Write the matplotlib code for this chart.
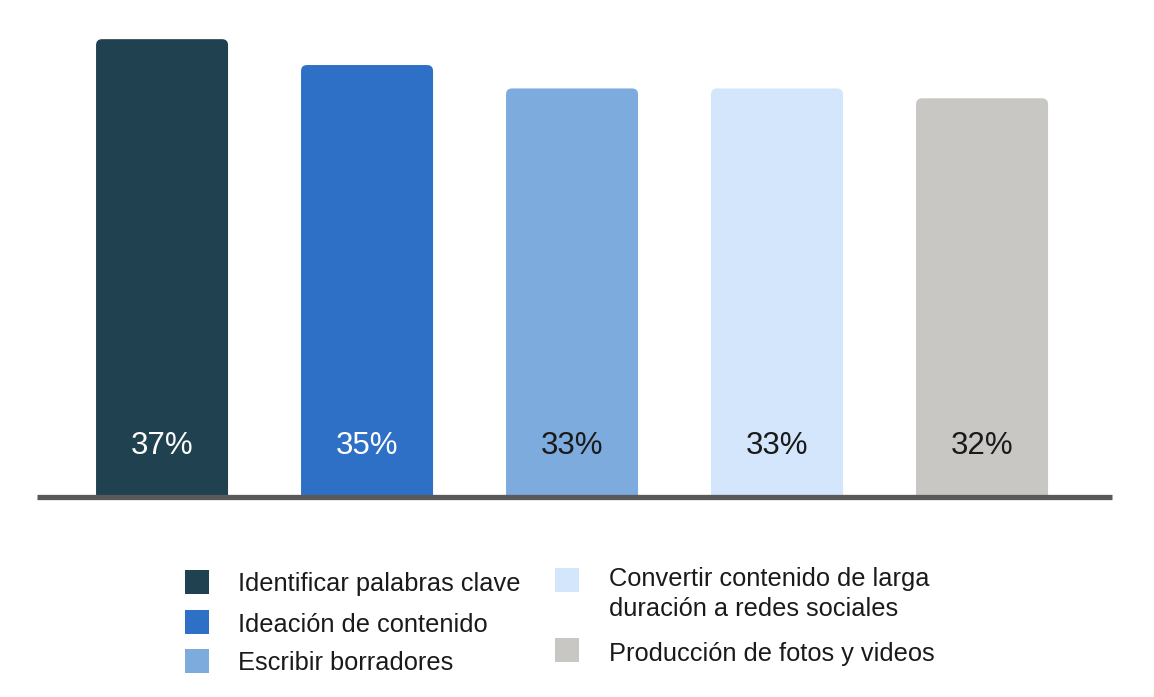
import matplotlib.pyplot as plt
from matplotlib.patches import FancyBboxPatch, Rectangle

plt.rcParams['font.family'] = ['Liberation Sans', 'DejaVu Sans']

categories = ["Identificar palabras clave", "Ideación de contenido", "Escribir borradores",
              "Convertir contenido de larga\nduración a redes sociales", "Producción de fotos y videos"]
values = [37.0, 34.9, 33.0, 33.0, 32.2]
colors = ["#1f4150", "#2e70c6", "#7eabdd", "#d4e6fb", "#c8c7c3"]
label_colors = ["white", "white", "#1a1a1a", "#1a1a1a", "#1a1a1a"]

W, H = 1154, 697
fig = plt.figure(figsize=(W / 100, H / 100), dpi=100)
# axes placed in pixel terms: x 37..1112, y 20..495 (from top)
ax = fig.add_axes([37 / W, (H - 495) / H, 1075 / W, 475 / H])
ax.set_xlim(-0.61, 4.634)
px_x = 205.0
px_y = 12.32
ax.set_ylim(0, 475 / px_y)

x = list(range(len(values)))
bars = ax.bar(x, values, width=0.644, color=colors)

# swap plain bars for ones with rounded top corners (bottom corners get clipped)
r = 6 / px_x
for b in bars:
    b.set_visible(False)
    p = FancyBboxPatch((b.get_x(), -2), b.get_width(), b.get_height() + 2,
                       boxstyle="round,pad=0,rounding_size=%f" % r,
                       mutation_aspect=px_x / px_y, facecolor=b.get_facecolor(),
                       edgecolor="none")
    ax.add_patch(p)

for xi, v, lc in zip(x, values, label_colors):
    ax.text(xi, 4.0, "%.0f%%" % v, ha="center", va="center", fontsize=22.5, color=lc)

for s in ["top", "right", "left"]:
    ax.spines[s].set_visible(False)
ax.spines["bottom"].set_color("#595959")
ax.spines["bottom"].set_linewidth(3.8)
ax.spines["bottom"].set_position(("outward", 1.2))
ax.spines["bottom"].set_zorder(5)
ax.spines["bottom"].set_capstyle("butt")
ax.set_xticks([])
ax.set_yticks([])

# legend, laid out by hand (two columns)
leg_pos = [(185, 570, 238, 582), (185, 610, 238, 622), (185, 649, 238, 661),
           (555, 568, 609, 567), (555, 638, 609, 651)]
sq = 24
for (mx, my, tx, ty), c, lab in zip(leg_pos, colors, categories):
    fig.patches.append(Rectangle((mx / W, 1 - (my + sq) / H), sq / W, sq / H,
                                 transform=fig.transFigure, facecolor=c, edgecolor="none"))
    fig.text(tx / W, 1 - ty / H, lab, ha="left", va="center_baseline" if "\n" not in lab else "top",
             fontsize=18.3, color="#1a1a1a", linespacing=1.3)

fig.savefig("out.png", dpi=100)
